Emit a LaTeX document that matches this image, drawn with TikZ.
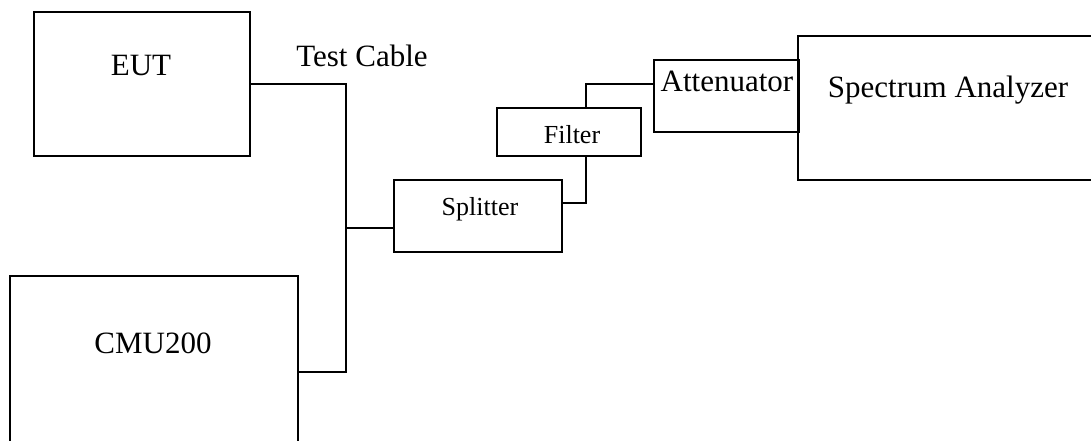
\documentclass[tikz,border=0pt]{standalone}
\usepackage{fontspec}
\setmainfont{Liberation Serif}
\usetikzlibrary{calc}
\begin{document}
\begin{tikzpicture}[x=1pt,y=-1pt,
  box/.style={draw,line width=1.6pt,rectangle,inner sep=0pt},
  big/.style={font=\fontsize{31}{36}\selectfont,inner sep=0pt,anchor=base},
  small/.style={font=\fontsize{26}{30}\selectfont,inner sep=0pt,anchor=base},
  wire/.style={line width=1.6pt}]
\useasboundingbox (0,0) rectangle (1091,441);
\clip (0,0) rectangle (1091,441);
% boxes
\node[box,minimum width=216pt,minimum height=144pt] (eut) at (142,84) {};
\node[box,minimum width=288pt,minimum height=190pt] (cmu) at (154,371) {};
\node[box,minimum width=168pt,minimum height=72pt] (split) at (478,216) {};
\node[box,minimum width=144pt,minimum height=48pt] (filt) at (569,132) {};
\node[box,minimum width=145pt,minimum height=72pt] (att) at (726.5,96) {};
\node[box,minimum width=310pt,minimum height=144pt] (sa) at (953,108) {};
% texts
\node[big] (teut) at (141,76) {EUT};
\node[big] (tcab) at (362,67) {Test Cable};
\node[big] (tcmu) at (153,353) {CMU200};
\node[small] (tspl) at (480,215) {Splitter};
\node[small] (tfil) at (572,143) {Filter};
\node[big] (tatt) at (727,92) {Attenuator};
\node[big] (tsa) at (948,98) {Spectrum Analyzer};
% connectors
\coordinate (j) at (346,228);
\draw[wire] (eut.east) -| (j);
\draw[wire] ($(cmu.east)+(0,1)$) -| (j);
\draw[wire] (j) -- ($(split.west)+(0,12)$);
\draw[wire] ($(split.east)+(0,-13)$) -| ($(filt.south)+(17,0)$);
\draw[wire] ($(filt.north)+(17,0)$) |- ($(att.west)+(0,-12)$);
\end{tikzpicture}
\end{document}
